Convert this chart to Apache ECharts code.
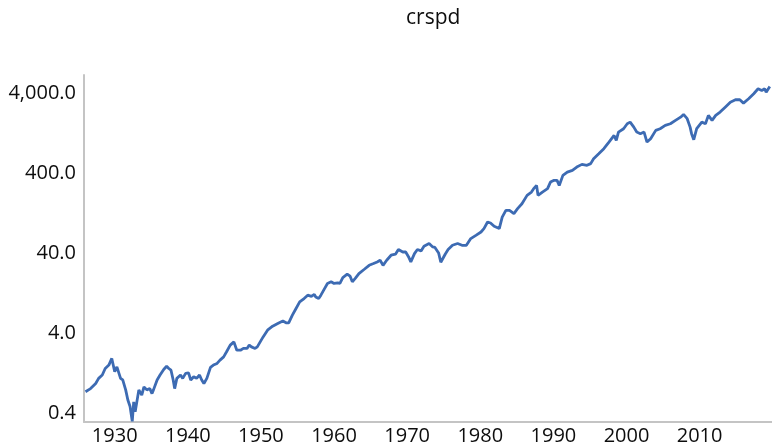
<!DOCTYPE html>
<html>
<head>
<meta charset="utf-8">
<script src="https://cdn.jsdelivr.net/npm/echarts@6/dist/echarts.min.js"></script>
<style>
  html, body { margin: 0; padding: 0; background: #fff; }
  #chart { width: 772px; height: 446px; }
</style>
</head>
<body>
<div id="chart"></div>
<script>
// (year, index level)
var years = [
  1926.0, 1926.2, 1926.7, 1927.4, 1927.8, 1928.3, 1928.7, 1929.2, 1929.6, 1930.0,
  1930.3, 1930.8, 1931.1, 1931.5, 1931.8, 1932.1, 1932.4, 1932.6, 1932.8, 1933.0,
  1933.3, 1933.5, 1933.7, 1934.0, 1934.4, 1934.8, 1935.1, 1935.3, 1935.8, 1936.2,
  1936.7, 1937.1, 1937.4, 1937.7, 1938.0, 1938.2, 1938.5, 1939.0, 1939.3, 1939.7,
  1940.1, 1940.4, 1940.8, 1941.2, 1941.6, 1941.9, 1942.2, 1942.6, 1943.1, 1943.5,
  1944.0, 1944.4, 1944.9, 1945.3, 1945.8, 1946.3, 1946.7, 1947.2, 1947.6, 1948.1,
  1948.4, 1948.7, 1949.2, 1949.5, 1949.9, 1950.3, 1950.9, 1951.6, 1952.3, 1953.0,
  1953.5, 1953.8, 1954.3, 1954.8, 1955.3, 1955.9, 1956.4, 1956.9, 1957.3, 1957.5,
  1957.9, 1958.2, 1958.7, 1959.1, 1959.6, 1960.0, 1960.5, 1960.8, 1961.2, 1961.8,
  1962.2, 1962.5, 1962.9, 1963.4, 1964.1, 1964.8, 1965.4, 1965.9, 1966.3, 1966.7,
  1967.2, 1967.8, 1968.4, 1968.8, 1969.4, 1969.8, 1970.2, 1970.5, 1971.0, 1971.4,
  1971.9, 1972.3, 1973.0, 1973.5, 1973.8, 1974.3, 1974.6, 1975.2, 1975.6, 1976.2,
  1976.9, 1977.5, 1978.1, 1978.7, 1979.4, 1980.1, 1980.5, 1981.0, 1981.4, 1981.9,
  1982.6, 1983.0, 1983.5, 1984.0, 1984.6, 1985.1, 1985.7, 1986.4, 1987.0, 1987.3,
  1987.7, 1987.9, 1988.5, 1989.2, 1989.6, 1990.1, 1990.5, 1990.8, 1991.3, 1991.9,
  1992.6, 1993.2, 1993.9, 1994.6, 1995.1, 1995.5, 1996.2, 1996.9, 1997.6, 1998.3,
  1998.6, 1998.9, 1999.6, 2000.1, 2000.5, 2001.0, 2001.4, 2001.9, 2002.4, 2002.8,
  2003.3, 2004.0, 2004.6, 2005.3, 2006.0, 2006.7, 2007.4, 2007.8, 2008.3, 2008.7,
  2008.9, 2009.2, 2009.6, 2010.3, 2010.8, 2011.2, 2011.7, 2012.2, 2012.8, 2013.5,
  2014.2, 2014.9, 2015.5, 2016.0, 2016.7, 2017.4, 2018.0, 2018.5, 2018.9, 2019.1,
  2019.6
];
var crspd = [
  0.75, 0.71, 0.82, 0.95, 1.10, 1.21, 1.46, 1.61, 1.95, 1.33,
  1.53, 1.10, 1.05, 0.79, 0.59, 0.49, 0.32, 0.56, 0.42, 0.54,
  0.79, 0.82, 0.68, 0.86, 0.79, 0.82, 0.71, 0.79, 1.05, 1.21,
  1.42, 1.56, 1.46, 1.39, 1.05, 0.82, 1.10, 1.21, 1.10, 1.27,
  1.29, 1.05, 1.15, 1.10, 1.21, 1.05, 0.95, 1.10, 1.51, 1.61,
  1.69, 1.86, 2.04, 2.36, 2.86, 3.14, 2.47, 2.47, 2.60, 2.60,
  2.86, 2.72, 2.60, 2.72, 3.14, 3.62, 4.39, 4.92, 5.32, 5.73,
  5.41, 5.41, 6.75, 8.19, 9.89, 10.9, 12.0, 11.6, 12.3, 11.4,
  10.9, 12.0, 14.5, 16.8, 17.6, 16.8, 17.1, 16.8, 19.9, 21.9,
  20.7, 17.6, 19.4, 22.3, 25.1, 28.3, 29.8, 31.2, 32.7, 28.3,
  32.7, 37.8, 38.9, 44.5, 41.5, 41.5, 36.0, 31.2, 39.6, 44.5,
  42.8, 48.9, 52.9, 48.0, 47.3, 40.4, 30.9, 38.9, 44.5, 50.3,
  52.9, 50.3, 50.3, 61.0, 67.0, 73.7, 81.3, 98.2, 95.5, 86.7,
  81.3, 113, 137, 137, 125, 144, 166, 211, 232, 256,
  281, 211, 232, 256, 309, 325, 325, 281, 375, 412,
  433, 476, 514, 500, 525, 605, 698, 807, 975, 1180,
  1024, 1300, 1432, 1652, 1730, 1500, 1300, 1242, 1300, 975,
  1075, 1365, 1432, 1574, 1652, 1816, 1996, 2158, 1910, 1500,
  1242, 1045, 1432, 1730, 1652, 2099, 1816, 2099, 2307, 2661,
  3070, 3291, 3291, 2986, 3389, 3909, 4509, 4296, 4509, 4092,
  4820
];
var yTicks = [0.4, 4, 40, 400, 4000];
var xTicks = [1930, 1940, 1950, 1960, 1970, 1980, 1990, 2000, 2010];

var lineData = years.map(function (y, i) { return [y, crspd[i]]; });

function fmt(v) {
  return v.toFixed(1).replace(/\B(?=(\d{3})+(?!\d))/g, ',');
}

var chart = echarts.init(document.getElementById('chart'));
var fontFamily = '"Open Sans", "Noto Sans", sans-serif';
var axisColor = '#c4c4c4';

chart.setOption({
  animation: false,
  backgroundColor: '#fff',
  title: {
    text: 'crspd',
    left: 401,
    top: 3,
    textStyle: { fontFamily: fontFamily, fontSize: 21, fontWeight: 'normal', color: '#0d0d0d' }
  },
  grid: { left: 84, right: -3, top: 75, bottom: 24 },
  xAxis: {
    type: 'value',
    min: 1925.8,
    max: 2019.9,
    axisLine: { show: true, lineStyle: { color: axisColor, width: 2 } },
    axisTick: { show: false },
    splitLine: { show: false },
    axisLabel: {
      customValues: xTicks,
      margin: 4,
      fontFamily: fontFamily,
      fontSize: 20,
      color: '#0d0d0d',
      formatter: function (v) { return String(v); }
    }
  },
  yAxis: {
    type: 'log',
    logBase: 10,
    min: 0.314,
    max: 6700,
    axisLine: { show: true, lineStyle: { color: axisColor, width: 2 } },
    axisTick: { show: false },
    splitLine: { show: false },
    axisLabel: {
      customValues: yTicks,
      margin: 8,
      fontFamily: fontFamily,
      fontSize: 20,
      color: '#0d0d0d',
      formatter: function (v) { return fmt(v); }
    }
  },
  series: [{
    name: 'crspd',
    type: 'line',
    data: lineData,
    showSymbol: false,
    lineStyle: { color: '#3d6bb3', width: 2.8 },
    itemStyle: { color: '#3d6bb3' }
  }]
});
</script>
</body>
</html>
